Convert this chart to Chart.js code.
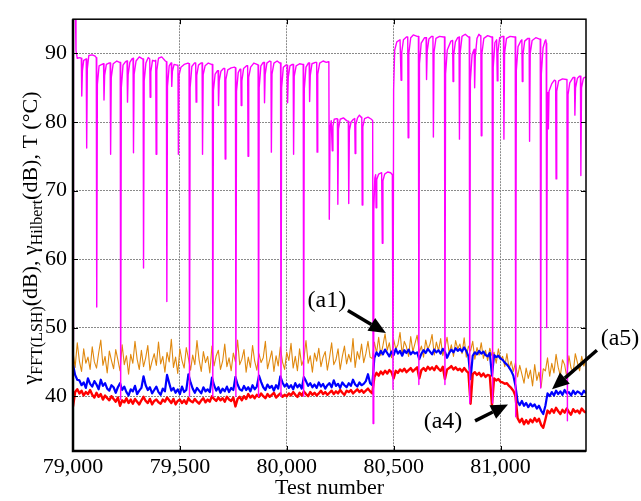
<!DOCTYPE html>
<html>
<head>
<meta charset="utf-8">
<script src="https://cdn.jsdelivr.net/npm/chart.js@4.4.1/dist/chart.umd.min.js"></script>
<style>
  html, body { margin: 0; padding: 0; background: #fff; }
  #wrap { width: 641px; height: 501px; }
</style>
</head>
<body>
<div id="wrap"><canvas id="chart" width="641" height="501"></canvas></div>
<script>
// test numbers for the three noisy traces: one value every 10 tests
const testStart = 79000;
const testStep = 10;

const xTicks = [79000, 79500, 80000, 80500, 81000];
const yTicks = [40, 50, 60, 70, 80, 90];

// orange trace
const orangeVals = [
  46.5, 44.2, 47.8, 45.1, 43.6, 46.9, 44.8, 45.7, 43.9, 47.2, 45.0, 44.1, 46.3, 48.2, 44.5, 45.8, 43.4, 46.6, 45.2, 44.0,
  46.8, 45.3, 43.7, 47.5, 44.6, 45.9, 43.2, 46.1, 44.8, 48.0, 45.4, 43.9, 46.7, 44.3, 45.6, 47.4, 43.8, 45.1, 46.2, 44.5,
  47.9, 44.7, 45.8, 43.5, 46.4, 45.0, 48.3, 44.2, 45.7, 43.3, 46.9, 45.2, 44.1, 47.1, 45.5, 43.8, 46.0, 44.6, 48.1, 45.3,
  43.6, 46.5, 44.9, 45.8, 43.4, 47.3, 44.4, 45.9, 46.7, 43.9, 45.1, 47.6, 44.3, 45.6, 43.7, 46.3, 45.0, 48.2, 44.6, 45.4,
  46.8, 43.5, 45.7, 44.2, 47.4, 45.1, 43.8, 46.2, 44.9, 45.6, 48.0, 44.0, 45.3, 46.6, 43.6, 45.9, 44.4, 47.2, 45.0, 43.9,
  46.4, 45.2, 47.7, 44.1, 45.8, 43.7, 46.9, 44.5, 45.4, 48.1, 44.8, 45.9, 43.5, 46.3, 45.1, 47.0, 44.3, 45.7, 46.5, 43.8,
  45.6, 47.8, 44.6, 45.3, 46.9, 43.9, 45.8, 47.3, 44.7, 46.1, 45.0, 48.4, 44.2, 46.5, 45.4, 47.6, 44.9, 46.2, 48.0, 45.7, 45.5,
  47.9, 46.3, 48.6, 45.9, 47.4, 49.1, 46.7, 47.8, 45.6, 48.3, 46.9, 47.5, 49.3, 46.1, 48.0, 47.2, 45.8, 48.7, 46.5, 47.7,
  48.9, 46.4, 47.3, 45.7, 48.2, 46.8, 47.6, 49.0, 46.0, 47.9, 46.6, 48.4, 45.9, 47.1, 48.6, 46.3, 47.5, 45.8, 48.1, 46.9,
  47.6, 46.2, 48.5, 45.7, 47.3, 46.6, 48.0, 45.4, 47.1, 46.0, 47.8, 45.5, 46.7, 45.2, 47.0, 45.9, 46.4, 44.8, 46.9, 45.3,
  45.8, 44.3, 46.2, 44.0, 45.1, 43.6, 44.9, 42.8, 44.5, 43.2, 41.9, 44.1, 42.6, 43.8, 41.5, 44.6, 42.3, 43.5, 41.3, 44.0,
  43.7, 45.6, 42.9, 44.8, 43.4, 46.1, 44.2, 43.0, 45.3, 44.6, 42.8, 45.9, 44.1, 43.5, 46.2, 44.9, 43.7, 45.8, 44.4, 45.5
];

// blue trace
const blueVals = [
  44.6, 43.1, 42.4, 42.3, 41.6, 42.0, 41.2, 42.6, 41.8, 41.4, 42.2, 41.7, 41.0, 42.4, 41.5, 41.9, 41.1, 40.8, 41.6, 41.3,
  40.5, 41.3, 41.9, 40.9, 41.4, 40.6, 40.1, 41.0, 40.7, 41.5, 40.3, 40.8, 41.2, 42.9, 41.6, 40.9, 41.3, 40.4, 40.9, 41.4,
  40.6, 40.2, 41.1, 40.7, 43.1, 41.9, 40.8, 41.2, 40.5, 41.0, 40.3, 41.4, 40.6, 40.9, 43.2, 42.0, 41.1, 40.5, 41.2, 40.8,
  40.4, 41.3, 40.7, 41.0, 40.6, 42.7, 41.6, 40.8, 41.3, 40.5, 41.1, 40.7, 41.4, 40.6, 41.2, 40.9, 42.8, 41.7, 41.0, 40.8,
  41.5, 40.9, 41.3, 40.7, 41.6, 41.0, 41.4, 43.0, 42.1, 41.3, 40.9, 41.7, 41.2, 41.5, 40.8, 41.6, 41.1, 42.9, 42.0, 41.4,
  41.8, 41.2, 41.6, 41.0, 41.9, 41.3, 41.7, 41.1, 42.8, 42.2, 41.5, 41.9, 41.3, 41.7, 41.2, 42.0, 41.4, 41.8, 41.1, 41.6,
  41.9, 41.3, 42.3, 41.5, 41.8, 41.2, 42.0, 41.6, 41.3, 41.9, 41.5, 42.4, 41.7, 41.4, 42.0, 41.6, 41.8, 42.2, 43.2, 41.9, 41.6,
  45.6, 46.4, 45.9, 46.6, 46.1, 46.8, 46.3, 45.8, 46.5, 46.0, 46.9, 46.2, 46.6, 45.9, 46.7, 46.3, 46.8, 46.1, 46.5, 46.2,
  46.4, 45.4, 46.2, 46.7, 46.3, 46.9, 46.5, 46.1, 46.8, 46.4, 46.7, 46.2, 46.9, 46.5, 45.6, 46.3, 46.8, 46.4, 47.0, 46.6,
  46.9, 46.5, 47.1, 46.6, 45.8, 42.5, 45.9, 46.4, 46.1, 46.6, 46.2, 46.5, 46.0, 45.8, 46.3, 43.0, 46.0, 45.7, 45.9, 45.5,
  45.3, 44.9, 44.6, 44.2, 43.7, 43.0, 41.5, 39.2, 38.7, 39.3, 38.6, 39.0, 38.4, 38.9, 38.5, 38.8, 38.2, 38.6, 37.9, 37.4,
  38.6, 40.4, 40.0, 40.6, 40.1, 40.8, 40.3, 40.7, 40.2, 40.9, 40.4, 40.6, 40.1, 40.8, 40.3, 40.7, 40.5, 40.2, 40.8, 40.4
];

// red trace
const redVals = [
  38.5, 40.6, 41.0, 40.4, 40.8, 40.1, 40.6, 40.3, 40.9, 40.2, 39.8, 40.5, 39.9, 40.3, 39.5, 40.1, 39.7, 39.4, 40.0, 39.6,
  39.2, 39.8, 38.6, 39.4, 39.1, 39.7, 39.0, 39.5, 38.9, 39.6, 39.2, 38.8, 39.4, 39.9, 39.3, 39.0, 39.6, 38.8, 39.3, 39.5,
  39.1, 38.9, 39.5, 39.2, 39.8, 39.4, 39.0, 39.6, 38.8, 39.3, 39.5, 39.0, 39.4, 38.9, 39.7, 39.3, 39.1, 39.6, 39.2, 38.9,
  39.4, 39.7, 39.1, 39.5, 39.2, 40.0, 39.6, 39.3, 39.8, 39.4, 39.7, 39.2, 39.9, 39.5, 39.3, 39.8, 38.5, 39.6, 39.9, 39.4,
  40.0, 39.6, 40.3, 39.8, 40.1, 39.7, 40.2, 39.9, 40.4, 40.0, 39.7, 40.3, 39.9, 40.2, 40.5, 39.8, 40.1, 40.4, 39.9, 40.2,
  40.0, 40.4, 40.1, 40.6, 40.2, 39.9, 40.5, 40.1, 40.7, 40.3, 40.0, 40.6, 40.2, 40.5, 40.1, 40.4, 40.8, 40.3, 40.6, 40.2,
  40.5, 40.8, 40.3, 40.7, 40.4, 40.9, 40.5, 40.2, 40.8, 40.6, 40.9, 40.4, 40.7, 41.0, 40.6, 40.9, 40.5, 40.8, 41.1, 40.7, 40.4,
  42.8, 43.4, 43.0, 43.6, 43.2, 43.7, 43.3, 43.8, 43.5, 42.6, 43.7, 43.4, 43.9, 43.6, 44.0, 43.5, 43.8, 44.1, 43.6, 43.9,
  44.2, 42.6, 43.8, 44.1, 43.7, 44.3, 43.9, 44.2, 43.8, 44.4, 44.0, 43.7, 44.3, 42.5, 43.9, 44.1, 44.4, 43.9, 44.2, 43.8,
  44.0, 43.6, 44.1, 43.7, 43.4, 38.9, 43.2, 43.5, 43.1, 43.4, 42.9, 43.3, 42.8, 43.1, 43.0, 38.7, 42.6, 42.3, 42.5, 42.1,
  42.0, 41.8, 41.9, 41.5, 41.2, 40.8, 40.0, 36.8, 36.2, 36.7, 35.9, 36.5, 36.0, 36.6, 36.2, 36.8, 36.3, 36.7, 35.8, 35.4,
  36.6, 37.9, 37.5, 38.1, 37.6, 38.3, 37.8, 37.4, 38.0, 37.6, 38.2, 37.7, 37.3, 38.1, 37.7, 37.9, 37.5, 38.2, 37.8, 37.6
];

// magenta trace (temperature), [test number, value]
const tempPoints = [
  [79000, 48], [79002, 96], [79011, 97], [79014, 90.4], [79020, 89.3], [79032, 89.4],
  [79039, 89.3], [79041, 83.8], [79044, 87.5], [79050, 89.0],
  [79062, 89.2], [79064, 76.2], [79067, 87.8], [79074, 89.7], [79090, 89.8], [79104, 89.6],
  [79109, 89.4], [79111, 53], [79114, 85.5], [79122, 88.2], [79135, 88.4],
  [79143, 88.5], [79145, 83.2], [79148, 86.8], [79156, 88.4], [79168, 88.6],
  [79174, 88.6], [79176, 75.3], [79179, 86.5], [79188, 88.5], [79205, 88.9], [79218, 88.7],
  [79221, 88.7], [79223, 39.5], [79226, 85.0], [79234, 88.3], [79246, 88.8],
  [79253, 88.9], [79255, 82.9], [79258, 86.9], [79266, 88.7], [79276, 89.2],
  [79281, 89.3], [79283, 75.5], [79286, 87.0], [79295, 88.9], [79310, 89.5], [79325, 89.2],
  [79328, 89.2], [79330, 58.7], [79333, 86.0], [79341, 88.6], [79352, 89.4],
  [79359, 89.2], [79361, 83.6], [79364, 87.3], [79372, 89.0], [79382, 88.9],
  [79387, 89.0], [79389, 75.3], [79392, 87.5], [79400, 89.3], [79415, 89.5], [79432, 88.9],
  [79437, 88.8], [79439, 53.8], [79442, 85.2], [79450, 88.2], [79458, 88.6],
  [79460, 88.6], [79462, 85.2], [79465, 87.4], [79473, 88.4], [79486, 88.3],
  [79491, 88.3], [79493, 75.3], [79496, 86.8], [79505, 88.0], [79520, 88.4], [79538, 88.6],
  [79543, 88.5], [79545, 40], [79548, 85.0], [79556, 88.1], [79568, 88.6],
  [79574, 88.6], [79576, 82.9], [79579, 86.8], [79587, 88.3], [79599, 88.6],
  [79604, 88.6], [79606, 75.3], [79609, 86.9], [79618, 88.2], [79633, 88.6], [79648, 88.4],
  [79652, 88.4], [79654, 40], [79657, 84.6], [79665, 87.0], [79676, 87.5],
  [79679, 87.5], [79681, 82.4], [79684, 86.0], [79692, 87.4], [79704, 87.8],
  [79710, 87.8], [79712, 74.6], [79715, 86.2], [79724, 87.6], [79740, 87.9], [79755, 88.0],
  [79760, 87.9], [79762, 40], [79765, 84.5], [79773, 87.2], [79781, 87.7],
  [79785, 87.7], [79787, 82.4], [79790, 86.0], [79798, 87.8], [79812, 88.2],
  [79817, 88.2], [79819, 75], [79822, 86.5], [79831, 88.0], [79846, 88.6], [79861, 88.4],
  [79866, 88.3], [79868, 40], [79871, 85.0], [79879, 88.2], [79890, 88.7],
  [79894, 88.7], [79896, 82.8], [79899, 86.9], [79907, 88.6], [79920, 88.9],
  [79926, 88.8], [79928, 75.6], [79931, 87.0], [79940, 88.6], [79955, 88.9], [79968, 88.6],
  [79971, 88.6], [79973, 40], [79976, 85.0], [79984, 88.0], [79996, 88.3],
  [80002, 88.3], [80004, 82.8], [80007, 86.5], [80015, 88.2], [80026, 88.4],
  [80030, 88.4], [80032, 75.3], [80035, 86.7], [80044, 88.2], [80060, 88.5], [80074, 88.4],
  [80077, 88.4], [80079, 40], [80082, 84.8], [80090, 88.0], [80101, 88.6],
  [80105, 88.6], [80107, 83], [80110, 86.8], [80118, 88.5], [80134, 88.7],
  [80140, 88.7], [80142, 75.6], [80145, 87.0], [80154, 88.6], [80170, 88.9], [80185, 88.7], [80195, 88.8],
  [80197, 88.6], [80199, 65.8], [80203, 79.2], [80208, 80.2],
  [80211, 80.2], [80213, 75.8], [80216, 79.4], [80222, 80.4], [80234, 80.5],
  [80237, 80.4], [80239, 68], [80242, 79.0], [80250, 80.4], [80265, 80.6], [80280, 80.2],
  [80288, 80.1], [80290, 68.1], [80293, 78.8], [80301, 80.0], [80312, 80.4],
  [80318, 80.5], [80320, 75.4], [80323, 79.6], [80331, 80.6], [80340, 81.0], [80348, 80.7],
  [80351, 80.6], [80353, 67.9], [80356, 79.3], [80364, 80.5], [80380, 80.7], [80396, 80.4],
  [80402, 80.2], [80404, 36],
  [80407, 67], [80412, 71.8], [80416, 72.3], [80418, 67.5], [80421, 71.6], [80430, 72.4],
  [80444, 72.6], [80447, 62.3], [80450, 71.4], [80458, 72.4], [80472, 72.7], [80486, 72.6], [80494, 72.3],
  [80497, 41], [80500, 84.7], [80505, 90.5], [80515, 91.7], [80530, 92.0],
  [80533, 92.0], [80535, 86.1], [80538, 90.2], [80546, 92.0], [80560, 92.4],
  [80566, 92.4], [80568, 77.7], [80571, 90.0], [80580, 92.3], [80592, 92.7], [80610, 92.5],
  [80616, 92.5], [80618, 41.7], [80621, 88.5], [80629, 91.5], [80645, 92.3],
  [80652, 92.3], [80654, 86.2], [80657, 90.3], [80665, 92.1], [80678, 92.5],
  [80684, 92.5], [80686, 77.8], [80689, 90.2], [80698, 92.2], [80715, 92.5], [80734, 92.4],
  [80738, 92.4], [80740, 41.7], [80743, 87.0], [80751, 90.5], [80768, 91.8],
  [80776, 91.9], [80778, 85.9], [80781, 89.8], [80789, 91.7], [80800, 92.3],
  [80806, 92.4], [80808, 77.5], [80811, 90.0], [80820, 92.5], [80835, 92.8], [80850, 92.4],
  [80854, 92.4], [80856, 39], [80859, 86.0], [80867, 89.8], [80875, 90.5],
  [80877, 90.6], [80879, 85], [80882, 89.5], [80890, 92.2], [80899, 92.8], [80905, 92.6],
  [80908, 92.5], [80910, 78], [80913, 90.0], [80922, 92.2], [80940, 92.6], [80957, 92.4],
  [80961, 92.4], [80963, 39], [80966, 88.0], [80974, 91.6], [80982, 92.0],
  [80983, 92.0], [80985, 86], [80988, 90.2], [80996, 92.3], [81010, 92.5],
  [81014, 92.5], [81016, 77.5], [81019, 90.0], [81028, 92.2], [81045, 92.5], [81065, 92.4],
  [81069, 92.4], [81071, 37], [81074, 87.5], [81082, 91.0], [81096, 91.9],
  [81100, 92.0], [81102, 85.9], [81105, 89.8], [81113, 91.8], [81128, 92.2],
  [81134, 92.2], [81136, 77.2], [81139, 90.0], [81148, 91.9], [81165, 92.3], [81183, 92.1],
  [81186, 92.1], [81188, 41.2], [81191, 87.0], [81199, 90.8], [81208, 91.8], [81212, 92.0],
  [81214, 91.5], [81216, 50], [81219, 83.5], [81222, 84.3], [81224, 79], [81227, 84.5],
  [81240, 85.6], [81252, 86.1], [81258, 86.0], [81260, 71.7], [81263, 84.5], [81272, 86.0], [81290, 86.3], [81308, 86.2],
  [81311, 86.1], [81313, 36.4], [81316, 84.0], [81324, 85.7], [81340, 86.5],
  [81346, 86.5], [81348, 81], [81351, 85.0], [81360, 86.4], [81370, 86.7],
  [81374, 86.7], [81376, 72.2], [81379, 85.0], [81388, 86.4], [81400, 86.6]
];

// annotation labels with arrows, in data units
const notes = [
  { text: '(a1)', at: [80188, 54.0], from: [80286, 52.5], to: [80464, 49.2] },
  { text: '(a4)', at: [80731, 36.3], from: [80881, 36.4], to: [81035, 38.8] },
  { text: '(a5)', at: [81559, 48.4], from: [81451, 46.7], to: [81241, 41.0] }
];

const SERIF = '"Liberation Serif", "Times New Roman", serif';

function toXY(vals) {
  return vals.map((v, i) => ({ x: testStart + i * testStep, y: v }));
}

// frame, inward ticks, y title with subscripts, annotations
const decorPlugin = {
  id: 'decor',
  afterDraw(chart) {
    const { ctx, chartArea: a, scales: { x, y } } = chart;
    ctx.save();
    ctx.strokeStyle = '#000';
    ctx.lineWidth = 1;
    ctx.beginPath();
    xTicks.forEach(v => {
      const px = Math.round(x.getPixelForValue(v)) + 0.5;
      ctx.moveTo(px, a.bottom); ctx.lineTo(px, a.bottom - 5);
      ctx.moveTo(px, a.top); ctx.lineTo(px, a.top + 5);
    });
    yTicks.forEach(v => {
      const py = Math.round(y.getPixelForValue(v)) + 0.5;
      ctx.moveTo(a.left, py); ctx.lineTo(a.left + 5, py);
      ctx.moveTo(a.right, py); ctx.lineTo(a.right - 5, py);
    });
    ctx.stroke();

    ctx.lineWidth = 1.5;
    ctx.strokeRect(a.left, a.top, a.right - a.left, a.bottom - a.top);
    ctx.lineWidth = 2.5;
    ctx.beginPath();
    ctx.moveTo(a.left, a.top); ctx.lineTo(a.left, a.bottom); ctx.lineTo(a.right, a.bottom);
    ctx.stroke();

    // y title: γ_FFT(LSH)(dB), γ_Hilbert(dB), T (°C)
    const parts = [
      ['γ', false], ['FFT(LSH)', true], ['(dB), γ', false], ['Hilbert', true], ['(dB), T (°C)', false]
    ];
    const big = '22px ' + SERIF, small = '16px ' + SERIF;
    let total = 0;
    const widths = parts.map(([t, sub]) => {
      ctx.font = sub ? small : big;
      const w = ctx.measureText(t).width;
      total += w;
      return w;
    });
    ctx.save();
    ctx.translate(37, 238);
    ctx.rotate(-Math.PI / 2);
    ctx.fillStyle = '#000';
    ctx.textBaseline = 'alphabetic';
    let cx = -total / 2;
    parts.forEach(([t, sub], i) => {
      ctx.font = sub ? small : big;
      ctx.fillText(t, cx, sub ? 5 : 0);
      cx += widths[i];
    });
    ctx.restore();

    // annotations
    ctx.fillStyle = '#000';
    ctx.strokeStyle = '#000';
    ctx.font = '24px ' + SERIF;
    ctx.textAlign = 'center';
    ctx.textBaseline = 'middle';
    notes.forEach(n => {
      ctx.fillText(n.text, x.getPixelForValue(n.at[0]), y.getPixelForValue(n.at[1]));
      const x1 = x.getPixelForValue(n.from[0]), y1 = y.getPixelForValue(n.from[1]);
      const x2 = x.getPixelForValue(n.to[0]), y2 = y.getPixelForValue(n.to[1]);
      const ang = Math.atan2(y2 - y1, x2 - x1);
      const hl = 17, hw = 7.5;
      const bx = x2 - hl * Math.cos(ang), by = y2 - hl * Math.sin(ang);
      ctx.lineWidth = 3.5;
      ctx.beginPath();
      ctx.moveTo(x1, y1); ctx.lineTo(bx, by);
      ctx.stroke();
      ctx.beginPath();
      ctx.moveTo(x2, y2);
      ctx.lineTo(bx + hw * Math.sin(ang), by - hw * Math.cos(ang));
      ctx.lineTo(bx - hw * Math.sin(ang), by + hw * Math.cos(ang));
      ctx.closePath();
      ctx.fill();
    });
    ctx.restore();
  }
};

const ctx = document.getElementById('chart').getContext('2d');
new Chart(ctx, {
  type: 'line',
  data: {
    datasets: [
      {
        data: tempPoints.map(([tx, ty]) => ({ x: tx, y: ty })),
        borderColor: '#ff00ff', borderWidth: 1.4, order: 0
      },
      { data: toXY(redVals), borderColor: '#ff0000', borderWidth: 2.4, order: 1 },
      { data: toXY(blueVals), borderColor: '#0000ff', borderWidth: 2.2, order: 2 },
      { data: toXY(orangeVals), borderColor: '#e0880e', borderWidth: 1.1, order: 3 }
    ]
  },
  options: {
    responsive: false,
    animation: false,
    events: [],
    layout: { padding: { top: 8, right: 55, left: 0, bottom: 0 } },
    elements: {
      point: { radius: 0 },
      line: { tension: 0, borderJoinStyle: 'round' }
    },
    plugins: {
      legend: { display: false },
      tooltip: { enabled: false }
    },
    scales: {
      x: {
        type: 'linear',
        min: 79000,
        max: 81400,
        afterBuildTicks: s => { s.ticks = xTicks.map(v => ({ value: v })); },
        afterFit: s => { s.height = 50; },
        grid: { color: '#8a8a8a', lineWidth: 1, drawTicks: false, tickLength: 0 },
        border: { display: false, dash: [2, 1] },
        ticks: {
          padding: 3,
          color: '#000',
          font: { family: SERIF, size: 22 },
          maxRotation: 0,
          callback: v => v.toLocaleString('en-US')
        },
        title: {
          display: true,
          text: 'Test number',
          color: '#000',
          font: { family: SERIF, size: 22 },
          padding: { top: 0, bottom: 0 }
        }
      },
      y: {
        min: 32,
        max: 95,
        afterBuildTicks: s => { s.ticks = yTicks.map(v => ({ value: v })); },
        afterFit: s => { s.width = 73; },
        grid: { color: '#8a8a8a', lineWidth: 1, drawTicks: false, tickLength: 0 },
        border: { display: false, dash: [2, 1] },
        ticks: {
          padding: 6,
          color: '#000',
          font: { family: SERIF, size: 22 }
        }
      }
    }
  },
  plugins: [decorPlugin]
});
</script>
</body>
</html>
